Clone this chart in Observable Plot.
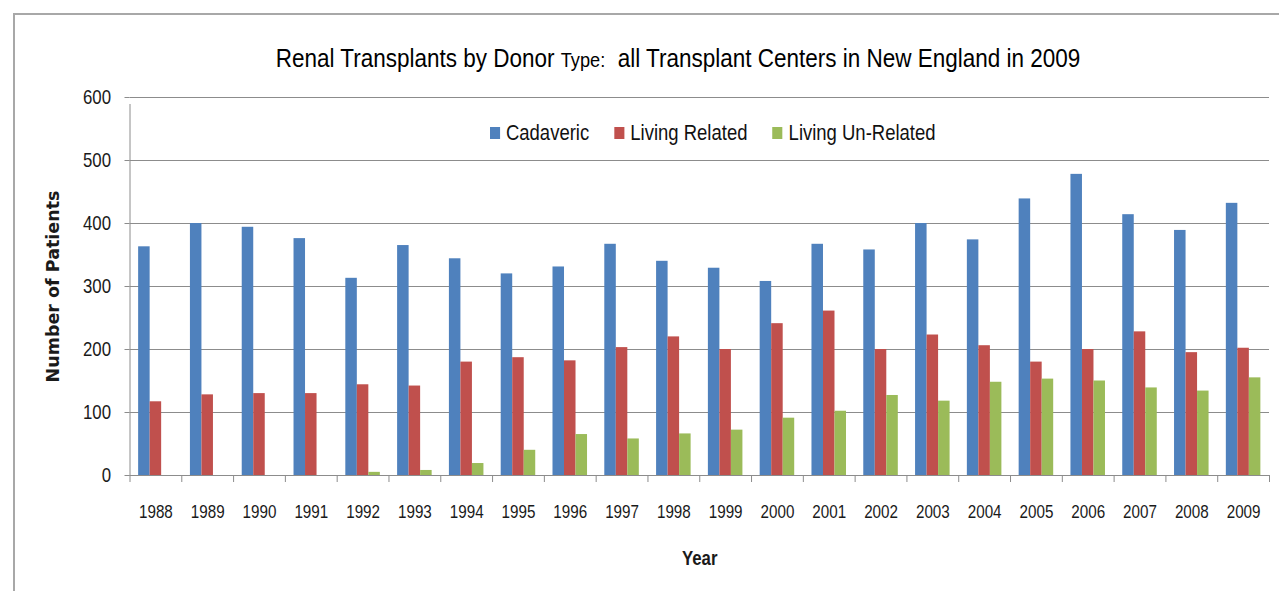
<!DOCTYPE html>
<html>
<head>
<meta charset="utf-8">
<script src="https://cdn.jsdelivr.net/npm/d3@7"></script>
<script src="https://cdn.jsdelivr.net/npm/@observablehq/plot@0.6"></script>
<style>
  html, body { margin: 0; padding: 0; background: #fff; }
  #wrap { position: relative; width: 1279px; height: 591px; overflow: hidden; }
  #border { position: absolute; left: 13px; top: 13px; width: 1320px; height: 640px;
            border-top: 2px solid #a8a8a8; border-left: 2px solid #a8a8a8; }
  #chart { position: absolute; left: 0; top: 0; }
  #title { position: absolute; left: 0; top: 45px; width: 1356px; text-align: center;
           font-family: "Liberation Sans", sans-serif; font-size: 26px;
           line-height: 26px; color: #000; white-space: nowrap;
           transform: scaleX(0.865); transform-origin: 678px 0; }
  #title .small { font-size: 21px; }
  #legend { position: absolute; left: 490px; top: 122px; display: flex; gap: 30px;
            font-family: "Liberation Sans", sans-serif; font-size: 22px;
            line-height: 22px; color: #111; white-space: nowrap;
            transform: scaleX(0.84); transform-origin: 0 0; }
  #legend .item { display: flex; align-items: center; }
  #legend .sw { width: 12px; height: 12px; margin-right: 7px; }
</style>
</head>
<body>
<div id="wrap">
  <div id="border"></div>
  <div id="chart"></div>
  <div id="title"></div>
  <div id="legend"></div>
</div>
<script>
// ---- data ----
const years = ["1988","1989","1990","1991","1992","1993","1994","1995","1996","1997","1998",
               "1999","2000","2001","2002","2003","2004","2005","2006","2007","2008","2009"];
const seriesNames = ["Cadaveric", "Living Related", "Living Un-Related"];
const seriesColors = ["#4F81BD", "#C0504D", "#9BBB59"];
const cadaveric = [363, 400, 394, 376, 313, 365, 344, 320, 331, 367, 340,
                   329, 308, 367, 358, 400, 374, 439, 478, 414, 389, 432];
const livingRelated = [117, 128, 130, 130, 144, 142, 180, 187, 182, 203, 220,
                       200, 241, 261, 200, 223, 206, 180, 200, 228, 195, 202];
const livingUnrelated = [0, 0, 0, 0, 5, 8, 19, 40, 65, 58, 66,
                         72, 91, 102, 127, 118, 148, 153, 150, 139, 134, 155];
const yTicks = [0, 100, 200, 300, 400, 500, 600];
const titleMain = "Renal Transplants by Donor ";
const titleSmall = "Type:";
const titleRest = "\u00a0 all Transplant Centers in New England in 2009";
const xLabel = "Year";
const yLabel = "Number of Patients";

// ---- build table ----
const seriesValues = [cadaveric, livingRelated, livingUnrelated];
const rows = [];
seriesNames.forEach((s, k) => years.forEach((y, i) => rows.push({year: y, series: s, k, value: seriesValues[k][i]})));

// ---- layout ----
const W = 1279, H = 591, mT = 97, mB = 116, mL = 129.5, mR = 10;
const bw = (W - mL - mR) / years.length;   // band width per year
const bar = bw / 4.5;                        // three bars + 150% gap
const FONT = "'Liberation Sans', sans-serif";
const gridColor = "#8c8c8c";

const barMarks = seriesNames.map((s, k) =>
  Plot.barY(rows.filter(d => d.series === s), {
    x: "year", y: "value", fill: seriesColors[k],
    insetLeft: (0.75 + k) * bar,
    insetRight: bw - (1.75 + k) * bar
  })
);

const chart = Plot.plot({
  width: W, height: H,
  marginTop: mT, marginBottom: mB, marginLeft: mL, marginRight: mR,
  style: {fontFamily: FONT, color: "#1a1a1a", background: "transparent", overflow: "visible"},
  x: {domain: years, padding: 0, round: false},
  y: {domain: [0, 600]},
  marks: [
    Plot.gridY(yTicks, {stroke: gridColor, strokeOpacity: 1}),
    ...barMarks,
    // y axis line (extends into the first category tick)
    Plot.ruleX([years[0]], {x: d => d, dx: -bw / 2, y1: 0, y2: 600, insetBottom: -7, stroke: gridColor}),
    // category boundary ticks
    Plot.ruleX(years, {x: d => d, dx: -bw / 2, y1: 0, y2: 0, insetBottom: -7, stroke: gridColor}),
    Plot.ruleX([years[years.length - 1]], {x: d => d, dx: bw / 2, y1: 0, y2: 0, insetBottom: -7, stroke: gridColor}),
    Plot.ruleY([0], {stroke: gridColor}),
    Plot.axisY({ticks: yTicks, tickSize: 5, tickPadding: 14, fontSize: 21, stroke: gridColor, fill: "#1a1a1a", label: null}),
    Plot.axisY({ticks: [], label: yLabel, labelAnchor: "center", labelArrow: "none", labelOffset: 83,
                fontFamily: "'DejaVu Sans', sans-serif", fontWeight: "bold", fontSize: 17.5, fill: "#1a1a1a"}),
    Plot.axisX({tickSize: 0, tickPadding: 29, fontSize: 19, fill: "#1a1a1a", label: null}),
    Plot.axisX({ticks: [], label: xLabel, labelAnchor: "center", labelOffset: 89,
                fontFamily: FONT, fontWeight: "bold", fontSize: 21, fill: "#1a1a1a"})
  ]
});
document.getElementById("chart").appendChild(chart);

// condense tick labels horizontally (narrow face of the original)
function condense(sel, f) {
  chart.querySelectorAll(sel).forEach(el => {
    const len = el.getComputedTextLength();
    if (len > 0) {
      el.setAttribute("textLength", (len * f).toFixed(2));
      el.setAttribute("lengthAdjust", "spacingAndGlyphs");
    }
  });
}
condense('[aria-label="x-axis tick label"] text', 0.8);
condense('[aria-label="y-axis tick label"] text', 0.8);
condense('[aria-label="x-axis label"] text', 0.8);

// ---- title ----
const t = document.getElementById("title");
t.append(titleMain);
const sm = document.createElement("span"); sm.className = "small"; sm.textContent = titleSmall;
t.append(sm);
t.append(titleRest);

// ---- legend ----
const lg = document.getElementById("legend");
seriesNames.forEach((s, k) => {
  const it = document.createElement("div"); it.className = "item";
  const sw = document.createElement("div"); sw.className = "sw"; sw.style.background = seriesColors[k];
  const tx = document.createElement("span"); tx.textContent = s;
  it.append(sw, tx); lg.append(it);
});
</script>
</body>
</html>
